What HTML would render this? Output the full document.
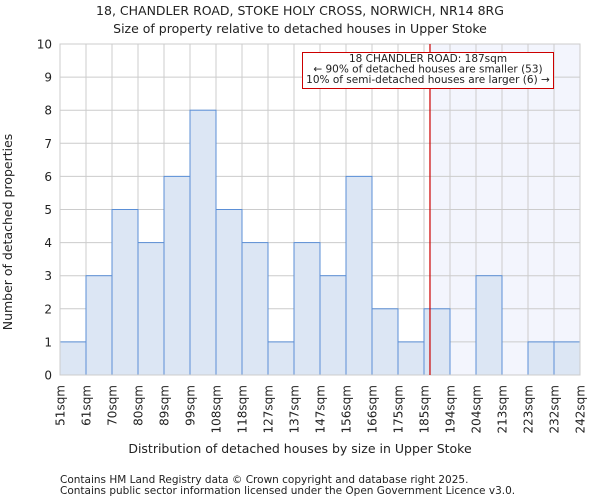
<!DOCTYPE html>
<html><head><meta charset="utf-8"><style>
body{margin:0;background:#fff;font-family:"DejaVu Sans","Liberation Sans",sans-serif;}
text{font-family:"DejaVu Sans","Liberation Sans",sans-serif;fill:#222;}
</style></head><body>
<svg id="chart" width="600" height="500" xmlns="http://www.w3.org/2000/svg">
<text x="300" y="15" font-size="12.5" text-anchor="middle">18, CHANDLER ROAD, STOKE HOLY CROSS, NORWICH, NR14 8RG</text>
<text x="300" y="33" font-size="12.5" text-anchor="middle">Size of property relative to detached houses in Upper Stoke</text>
<g id="plot"></g>
<text x="300" y="453" font-size="12.5" text-anchor="middle">Distribution of detached houses by size in Upper Stoke</text>
<text transform="translate(12,232) rotate(-90)" font-size="12.5" text-anchor="middle">Number of detached properties</text>
<text x="60" y="483" font-size="10.5">Contains HM Land Registry data © Crown copyright and database right 2025.</text>
<text x="60" y="494" font-size="10.5">Contains public sector information licensed under the Open Government Licence v3.0.</text>
</svg>
<script>
const binLabels=["51sqm","61sqm","70sqm","80sqm","89sqm","99sqm","108sqm","118sqm","127sqm","137sqm","147sqm","156sqm","166sqm","175sqm","185sqm","194sqm","204sqm","213sqm","223sqm","232sqm","242sqm"];
const counts=[1,3,5,4,6,8,5,4,1,4,3,6,2,1,2,0,3,0,1,1];
const yTicks=[0,1,2,3,4,5,6,7,8,9,10];
const markerBin=14.23;
const annotationLines=["18 CHANDLER ROAD: 187sqm","← 90% of detached houses are smaller (53)","10% of semi-detached houses are larger (6) →"];
const NS="http://www.w3.org/2000/svg";
const g=document.getElementById('plot');
const L=60,R=580,T=44,B=375,yMax=10;
const bw=(R-L)/counts.length;
const xs=i=>L+i*bw, ys=v=>B-(B-T)*v/yMax;
function mk(tag,at){const e=document.createElementNS(NS,tag);for(const k in at)e.setAttribute(k,at[k]);g.appendChild(e);return e;}
let e=mk('rect',{x:xs(markerBin),y:T,width:R-xs(markerBin),height:B-T,fill:'#f3f5fd'});


yTicks.forEach(v=>{let l=mk('line',{x1:L,x2:R,y1:ys(v),y2:ys(v),stroke:'#cccccc','stroke-width':1});


let t=mk('text',{x:L-8,y:ys(v)+4.5,'font-size':12,'text-anchor':'end'});t.textContent=v;

});
binLabels.forEach((s,i)=>{let l=mk('line',{x1:xs(i),x2:xs(i),y1:T,y2:B,stroke:'#cccccc','stroke-width':1});


let t=mk('text',{transform:`translate(${xs(i)+4.5},${B+10}) rotate(-90)`,'font-size':12,'text-anchor':'end'});t.textContent=s;

});
counts.forEach((c,i)=>{if(!c)return;let r=mk('rect',{x:xs(i),y:ys(c),width:bw,height:B-ys(c),fill:'#dce6f4',stroke:'#5b8fd6','stroke-width':1});

});
e=mk('rect',{x:L,y:T,width:R-L,height:B-T,fill:'none',stroke:'#cccccc'});


e=mk('line',{x1:xs(markerBin),x2:xs(markerBin),y1:T,y2:B,stroke:'#cc0000','stroke-width':1.2});


e=mk('rect',{x:302.5,y:52.5,width:251,height:36,fill:'#fff',stroke:'#cc0000'});


annotationLines.forEach((s,i)=>{let t=mk('text',{x:428,y:62+i*10.5,'font-size':10.5,'text-anchor':'middle'});t.textContent=s;

});
</script>
</body></html>
